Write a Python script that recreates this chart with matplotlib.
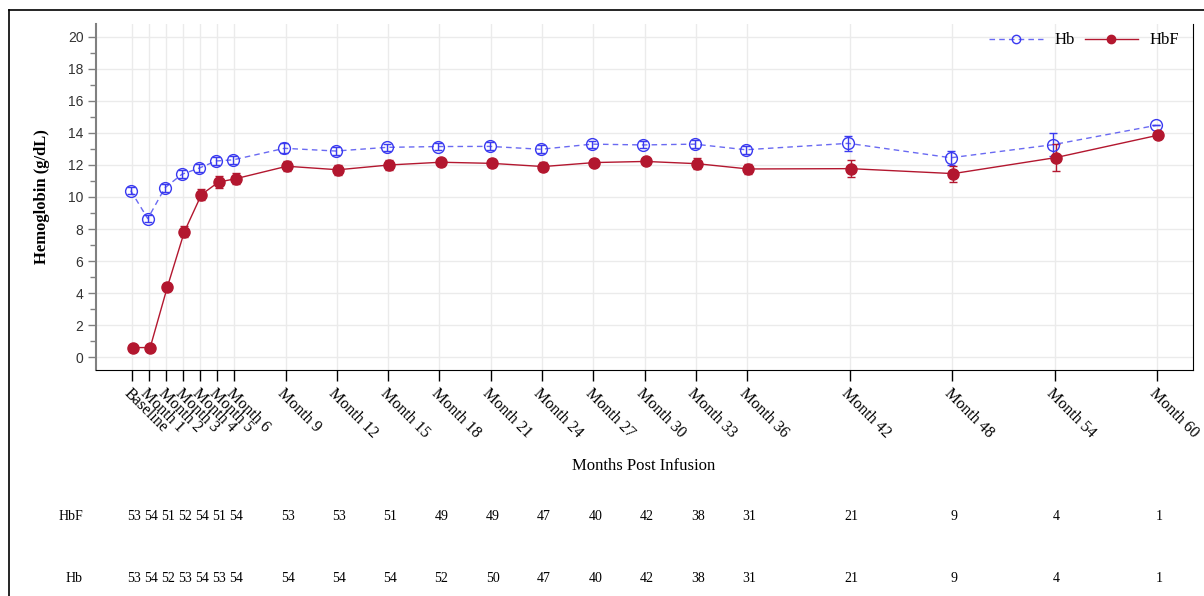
import numpy as np
import matplotlib
matplotlib.use("Agg")
import matplotlib.pyplot as plt
from matplotlib.lines import Line2D

# ----------------------- data -----------------------
visit_labels = ["Baseline", "Month 1", "Month 2", "Month 3", "Month 4", "Month 5", "Month 6",
                "Month 9", "Month 12", "Month 15", "Month 18", "Month 21", "Month 24",
                "Month 27", "Month 30", "Month 33", "Month 36", "Month 42", "Month 48",
                "Month 54", "Month 60"]
months = [0, 1, 2, 3, 4, 5, 6, 9, 12, 15, 18, 21, 24, 27, 30, 33, 36, 42, 48, 54, 60]

hb_mean = [10.4, 8.65, 10.57, 11.42, 11.8, 12.25, 12.32, 13.04, 12.87, 13.1, 13.15, 13.16,
           12.98, 13.3, 13.25, 13.3, 12.95, 13.35, 12.45, 13.27, 14.47]
hb_se = [0.2, 0.22, 0.25, 0.25, 0.25, 0.25, 0.25, 0.3, 0.25, 0.22, 0.22, 0.25,
         0.25, 0.22, 0.22, 0.25, 0.25, 0.45, 0.45, 0.7, 0.0]

hbf_mean = [0.6, 0.6, 4.36, 7.83, 10.15, 10.93, 11.14, 11.92, 11.7, 12.0, 12.17, 12.1,
            11.9, 12.15, 12.22, 12.08, 11.75, 11.77, 11.46, 12.46, 13.86]
hbf_se = [0.12, 0.12, 0.25, 0.35, 0.35, 0.35, 0.35, 0.3, 0.3, 0.3, 0.22, 0.25,
          0.3, 0.2, 0.15, 0.35, 0.3, 0.52, 0.5, 0.82, 0.0]

n_hbf = [53, 54, 51, 52, 54, 51, 54, 53, 53, 51, 49, 49, 47, 40, 42, 38, 31, 21, 9, 4, 1]
n_hb = [53, 54, 52, 53, 54, 53, 54, 54, 54, 54, 52, 50, 47, 40, 42, 38, 31, 21, 9, 4, 1]

# ----------------------- styling -----------------------
SERIF = "Liberation Serif"
SANS = "Liberation Sans"
HB_COLOR = "#3a3af0"
HB_LINE = "#6a6af2"
HBF_COLOR = "#b3172f"

W, H = 1204, 596
fig = plt.figure(figsize=(W / 100, H / 100), dpi=100)

# axes box in pixels: left 96, right 1193, top 24, bottom 370
ax = fig.add_axes([96 / W, 1 - 370 / H, (1193 - 96) / W, (370 - 24) / H])

x = np.array(months, dtype=float)
off = 0.07

ax.errorbar(x - off, hb_mean, yerr=hb_se, fmt="none", ecolor=HB_COLOR,
            elinewidth=1, capsize=3, capthick=1, zorder=3)
ax.plot(x - off, hb_mean, color=HB_LINE, lw=1, ls=(0, (4, 3)), zorder=2)
ax.plot(x - off, hb_mean, ls="none", marker="o", ms=8.5, mfc="none",
        mec=HB_COLOR, mew=1, zorder=4)

ax.errorbar(x + off, hbf_mean, yerr=hbf_se, fmt="none", ecolor=HBF_COLOR,
            elinewidth=1, capsize=3, capthick=1, zorder=3)
ax.plot(x + off, hbf_mean, color=HBF_COLOR, lw=1, zorder=2)
ax.plot(x + off, hbf_mean, ls="none", marker="o", ms=8, mfc=HBF_COLOR,
        mec=HBF_COLOR, zorder=5)

ax.set_xlim(-2.1, 62.1)
ax.set_ylim(-0.8, 20.8)

ax.set_yticks(np.arange(0, 21, 2))
ax.set_yticks(np.arange(1, 20, 2), minor=True)
ax.set_xticks(months)
ax.set_xticklabels(visit_labels, rotation=-45, rotation_mode="anchor",
                   ha="left", va="top", fontfamily=SERIF, fontsize=11.5)
for lab in ax.get_yticklabels():
    lab.set_fontfamily(SANS)
    lab.set_fontsize(10)
    lab.set_color("#333333")

ax.grid(True, which="major", color="#ebebeb", lw=1)
ax.set_axisbelow(True)

ax.tick_params(axis="x", direction="out", length=8, width=1, color="black", pad=3)
ax.tick_params(axis="y", which="major", direction="out", length=6, width=1, color="#808080", pad=3)
ax.tick_params(axis="y", which="minor", direction="out", length=4, width=1, color="#808080")

ax.spines["top"].set_visible(False)
ax.spines["left"].set_color("#808080")
ax.spines["left"].set_linewidth(1.5)
ax.spines["bottom"].set_color("black")
ax.spines["right"].set_color("black")

ax.set_ylabel("Hemoglobin (g/dL)", fontfamily=SERIF, fontsize=12, fontweight="bold", labelpad=13)
fig.text(644 / W, 1 - 466 / H, "Months Post Infusion", ha="center", va="center",
         fontfamily=SERIF, fontsize=12)

# legend
handles = [
    Line2D([], [], color=HB_LINE, ls=(0, (4, 3)), lw=1, marker="o", mfc="none",
           mec=HB_COLOR, ms=6),
    Line2D([], [], color=HBF_COLOR, lw=1, marker="o", mfc=HBF_COLOR, mec=HBF_COLOR, ms=6),
]
ax.legend(handles, ["Hb", "HbF"], loc="upper right", ncol=2, frameon=False,
          prop={"family": SERIF, "size": 12}, handlelength=3.2, handletextpad=0.7,
          columnspacing=0.6, bbox_to_anchor=(0.995, 1.0), borderaxespad=0.1)

# at-risk table under the axis
row_y = {"HbF": 1 - 517 / H, "Hb": 1 - 579 / H}
for name, counts in (("HbF", n_hbf), ("Hb", n_hb)):
    fig.text(83 / W, row_y[name], name, ha="right", va="center",
             fontfamily=SERIF, fontsize=10)
    for m, c in zip(months, counts):
        xd = ax.transData.transform((m, 0))[0]
        xf = fig.transFigure.inverted().transform((xd, 0))[0]
        fig.text(xf + 2 / W, row_y[name], str(c), ha="center", va="center",
                 fontfamily=SERIF, fontsize=10)

# outer frame lines (left and top)
fig.add_artist(Line2D([9 / W, 9 / W], [0, 1 - 10 / H], color="black", lw=1.2,
                      transform=fig.transFigure))
fig.add_artist(Line2D([9 / W, 1], [1 - 10 / H, 1 - 10 / H], color="black", lw=1.2,
                      transform=fig.transFigure))

fig.savefig("out.png", dpi=100)
